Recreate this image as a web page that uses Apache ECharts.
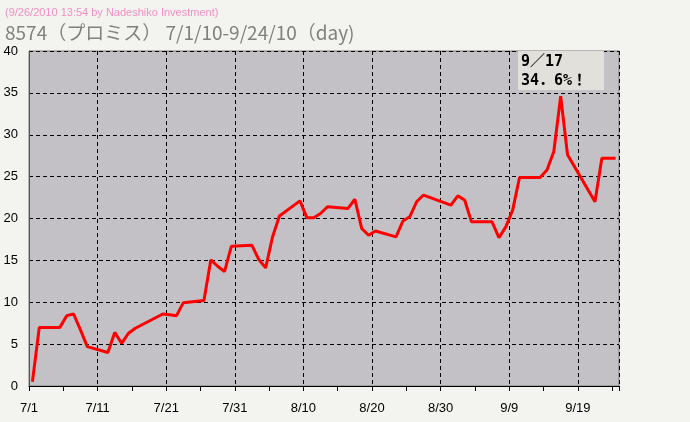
<!DOCTYPE html>
<html>
<head>
<meta charset="utf-8">
<script src="https://cdn.jsdelivr.net/npm/echarts@6/dist/echarts.min.js"></script>
<style>
html,body{margin:0;padding:0;background:#f3f3ef;}
#c{width:690px;height:422px;}
</style>
</head>
<body>
<div id="c"></div>
<script>
// Trading dates (2010) and values
const dates = ['7/1','7/2','7/5','7/6','7/7','7/8','7/9','7/12','7/13','7/14','7/15','7/16',
  '7/20','7/21','7/22','7/23','7/26','7/27','7/28','7/29','7/30','8/2','8/3','8/4','8/5','8/6',
  '8/9','8/10','8/11','8/12','8/13','8/16','8/17','8/18','8/19','8/20','8/23','8/24','8/25','8/26','8/27',
  '8/30','8/31','9/1','9/2','9/3','9/6','9/7','9/8','9/9','9/10','9/13','9/14','9/15','9/16','9/17',
  '9/21','9/22','9/24'];
const values = [0.5,7.0,7.0,8.4,8.6,6.7,4.7,4.0,6.4,5.1,6.3,6.9,
  8.6,8.5,8.4,9.95,10.2,15.05,14.3,13.65,16.7,16.8,15.1,14.1,17.8,20.3,
  22.1,20.1,20.1,20.6,21.4,21.2,22.3,18.8,18.0,18.5,17.8,19.7,20.2,22.0,22.8,
  21.9,21.6,22.7,22.2,19.6,19.6,17.7,19.0,21.0,24.9,24.9,25.8,28.0,34.6,27.6,
  22.0,27.2,27.2];
const xTickLabels = ['7/1','7/11','7/21','7/31','8/10','8/20','8/30','9/9','9/19'];
const yTicks = [0,5,10,15,20,25,30,35,40];
const titleText = '8574（プロミス） 7/1/10-9/24/10（day)';
const subText = '(9/26/2010 13:54 by Nadeshiko Investment)';
const noteLines = ['9／17', '34．6%！'];

// day offset from 7/1; each trading day plotted at its midday
function dayIndex(s){
  const p = s.split('/').map(Number);
  const start = {7:0, 8:31, 9:62};
  return start[p[0]] + p[1] - 1 + 0.5;
}
const seriesData = dates.map((d,i)=>[dayIndex(d), values[i]]);

const chart = echarts.init(document.getElementById('c'), null, {renderer:'canvas'});
chart.setOption({
  backgroundColor:'#f3f3ef',
  animation:false,
  grid:{left:29, top:51, right:71, bottom:36, show:true, backgroundColor:'#c3c1c5', borderColor:'#7a7a7a', borderWidth:1},
  xAxis:{
    type:'value', min:0, max:86, interval:10,
    axisLine:{show:true, onZero:false, lineStyle:{color:'#000', width:1}},
    axisTick:{show:true, length:5, lineStyle:{color:'#000'}},
    minorTick:{show:true, splitNumber:2, length:5, lineStyle:{color:'#000'}},
    axisLabel:{show:true, showMaxLabel:false, margin:16, color:'#000', fontSize:13,
      fontFamily:'Liberation Sans Narrow, Arial Narrow, Liberation Sans, sans-serif',
      formatter:function(v){ const i = Math.round(v/10); return (v%10===0 && xTickLabels[i]) ? xTickLabels[i] : ''; }},
    splitLine:{show:true, lineStyle:{color:'#000', type:[4,3], width:1}}
  },
  yAxis:{
    type:'value', min:yTicks[0], max:yTicks[yTicks.length-1], interval:5,
    axisLine:{show:true, lineStyle:{color:'#555', width:1}},
    axisTick:{show:false},
    axisLabel:{color:'#000', fontSize:13, margin:11,
      fontFamily:'Liberation Sans Narrow, Arial Narrow, Liberation Sans, sans-serif'},
    splitLine:{show:true, lineStyle:{color:'#000', type:[4,3], width:1}}
  },
  series:[{
    type:'line', data:seriesData, showSymbol:false, symbol:'none',
    lineStyle:{color:'#ff0000', width:3}, z:5
  }],
  graphic:[
    {type:'text', left:5, top:7, style:{text:subText, fill:'#f290c4', font:'11px "Liberation Sans Narrow", "Liberation Sans", sans-serif'}},
    {type:'text', left:5, top:23, style:{text:titleText, fill:'#808080', font:'19px "Noto Sans CJK JP", sans-serif'}},
    {type:'rect', shape:{x:518, y:51, width:86, height:39}, style:{fill:'#e1e0db'}, z:10},
    {type:'text', x:521, y:53, z:11, style:{text:noteLines.join('\n'), fill:'#000', lineHeight:19,
      font:'bold 15px "DejaVu Sans Mono", "Noto Sans CJK JP", monospace'}}
  ]
});
</script>
</body>
</html>
